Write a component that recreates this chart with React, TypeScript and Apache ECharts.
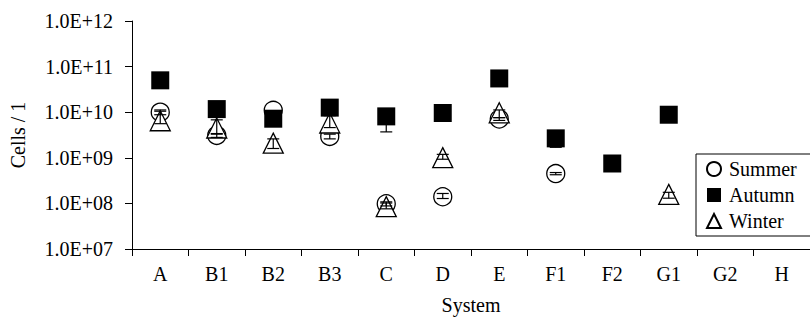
import React, { useEffect, useRef } from "react";
import * as echarts from "echarts";

const categories = ["A", "B1", "B2", "B3", "C", "D", "E", "F1", "F2", "G1", "G2", "H"];
const yTickValues = [1e7, 1e8, 1e9, 1e10, 1e11, 1e12];

const summer: (number | null)[] = [1.0e10, 3.1e9, 1.1e10, 2.95e9, 9.8e7, 1.4e8, 7.1e9, 4.5e8, null, null, null, null];
const autumn: (number | null)[] = [5.0e10, 1.17e10, 7.2e9, 1.26e10, 8.1e9, 9.6e9, 5.5e10, 2.67e9, 7.5e8, 8.8e9, null, null];
const winter: (number | null)[] = [6.5e9, 4.5e9, 2.1e9, 5.8e9, 8.5e7, 1.01e9, 9.7e9, null, null, 1.58e8, null, null];

// error bar [low, high] per category
const summerErr: ([number, number] | null)[] = [[8.8e9, 1.12e10], [2.8e9, 3.4e9], null, [2.6e9, 3.3e9], [8.8e7, 1.08e8], [1.28e8, 1.65e8], [6.6e9, 7.6e9], [4.25e8, 4.75e8], null, null, null, null];
const autumnErr: ([number, number] | null)[] = [null, null, null, null, [3.7e9, 1.0e10], null, null, [1.7e9, 3.2e9], null, null, null, null];
const winterErr: ([number, number] | null)[] = [[5.6e9, 1.05e10], [3.3e9, 6.8e9], [1.6e9, 2.6e9], [4.6e9, 8.4e9], [7.6e7, 1.02e8], [9.3e8, 1.19e9], [7.6e9, 1.12e10], null, null, [1.3e8, 1.75e8], null, null];

const FONT = "'Liberation Serif', 'Times New Roman', 'DejaVu Serif', serif";
const FS = 20;

function toPoints(vals: (number | null)[]) {
  return vals.map((v, i) => (v == null ? [i, null] : [i, v])).filter((d) => d[1] != null);
}
function toErr(errs: ([number, number] | null)[]) {
  const out: number[][] = [];
  errs.forEach((e, i) => {
    if (e) out.push([i, e[0], e[1]]);
  });
  return out;
}

function errSeries(name: string, errs: ([number, number] | null)[]) {
  return {
    type: "custom",
    name,
    z: 10,
    data: toErr(errs),
    encode: { x: 0, y: [1, 2] },
    renderItem: (params: any, api: any) => {
      const x = api.value(0);
      const lo = api.coord([x, api.value(1)]);
      const hi = api.coord([x, api.value(2)]);
      const hw = 6;
      const st = { stroke: "#000", lineWidth: 1.2 };
      return {
        type: "group",
        children: [
          { type: "line", shape: { x1: lo[0], y1: lo[1], x2: hi[0], y2: hi[1] }, style: st },
          { type: "line", shape: { x1: lo[0] - hw, y1: lo[1], x2: lo[0] + hw, y2: lo[1] }, style: st },
          { type: "line", shape: { x1: hi[0] - hw, y1: hi[1], x2: hi[0] + hw, y2: hi[1] }, style: st },
        ],
      };
    },
  };
}

export default function App() {
  const ref = useRef<HTMLDivElement>(null);
  useEffect(() => {
    if (!ref.current) return;
    const chart = echarts.init(ref.current, null, { renderer: "svg" });
    chart.setOption({
      animation: false,
      backgroundColor: "#fff",
      textStyle: { fontFamily: FONT },
      grid: { left: 131, right: -11, top: 21, bottom: 67, containLabel: false },
      xAxis: {
        type: "category",
        data: categories,
        boundaryGap: true,
        name: "System",
        nameLocation: "middle",
        nameGap: 46,
        nameTextStyle: { fontFamily: FONT, fontSize: FS, color: "#000" },
        axisLine: { lineStyle: { color: "#000", width: 1 } },
        axisTick: { show: true, length: 7, inside: false, lineStyle: { color: "#000" } },
        axisLabel: { fontFamily: FONT, fontSize: FS, color: "#000", margin: 15 },
        splitLine: { show: false },
      },
      yAxis: {
        type: "log",
        logBase: 10,
        min: yTickValues[0],
        max: yTickValues[yTickValues.length - 1],
        interval: 1,
        name: "Cells / 1",
        nameLocation: "middle",
        nameGap: 104,
        nameRotate: 90,
        nameTextStyle: { fontFamily: FONT, fontSize: FS, color: "#000" },
        axisLine: { show: true, lineStyle: { color: "#000", width: 1 } },
        axisTick: { show: true, length: 7, lineStyle: { color: "#000" } },
        axisLabel: {
          fontFamily: FONT,
          fontSize: FS,
          color: "#000",
          margin: 19,
          formatter: (v: number) => {
            const e = Math.round(Math.log10(v));
            return "1.0E+" + (e < 10 ? "0" + e : String(e));
          },
        },
        splitLine: { show: false },
      },
      legend: {
        data: ["Summer", "Autumn", "Winter"],
        orient: "vertical",
        left: 696,
        top: 154,
        padding: [5, 40, 5, 10],
        itemGap: 6,
        itemWidth: 14,
        itemHeight: 14,
        borderColor: "#000",
        borderWidth: 1,
        textStyle: { fontFamily: FONT, fontSize: FS, color: "#000", lineHeight: 20, padding: [0, 0, 0, 3] },
      },
      series: [
        {
          type: "scatter",
          name: "Summer",
          symbol: "circle",
          symbolSize: 18,
          z: 2,
          itemStyle: { color: "#fff", borderColor: "#000", borderWidth: 1.3, opacity: 1 },
          data: toPoints(summer),
        },
        {
          type: "scatter",
          name: "Winter",
          symbol: "triangle",
          symbolSize: [20, 20],
          z: 3,
          itemStyle: { color: "#fff", borderColor: "#000", borderWidth: 1.3, opacity: 1 },
          data: toPoints(winter),
        },
        {
          type: "scatter",
          name: "Autumn",
          symbol: "rect",
          symbolSize: 18,
          z: 4,
          itemStyle: { color: "#000", borderColor: "#000", borderWidth: 0, opacity: 1 },
          data: toPoints(autumn),
        },
        errSeries("SummerErr", summerErr),
        errSeries("AutumnErr", autumnErr),
        errSeries("WinterErr", winterErr),
      ],
    });
    return () => chart.dispose();
  }, []);
  return <div ref={ref} style={{ width: 810, height: 320, position: "absolute", left: 0, top: 0 }} />;
}
